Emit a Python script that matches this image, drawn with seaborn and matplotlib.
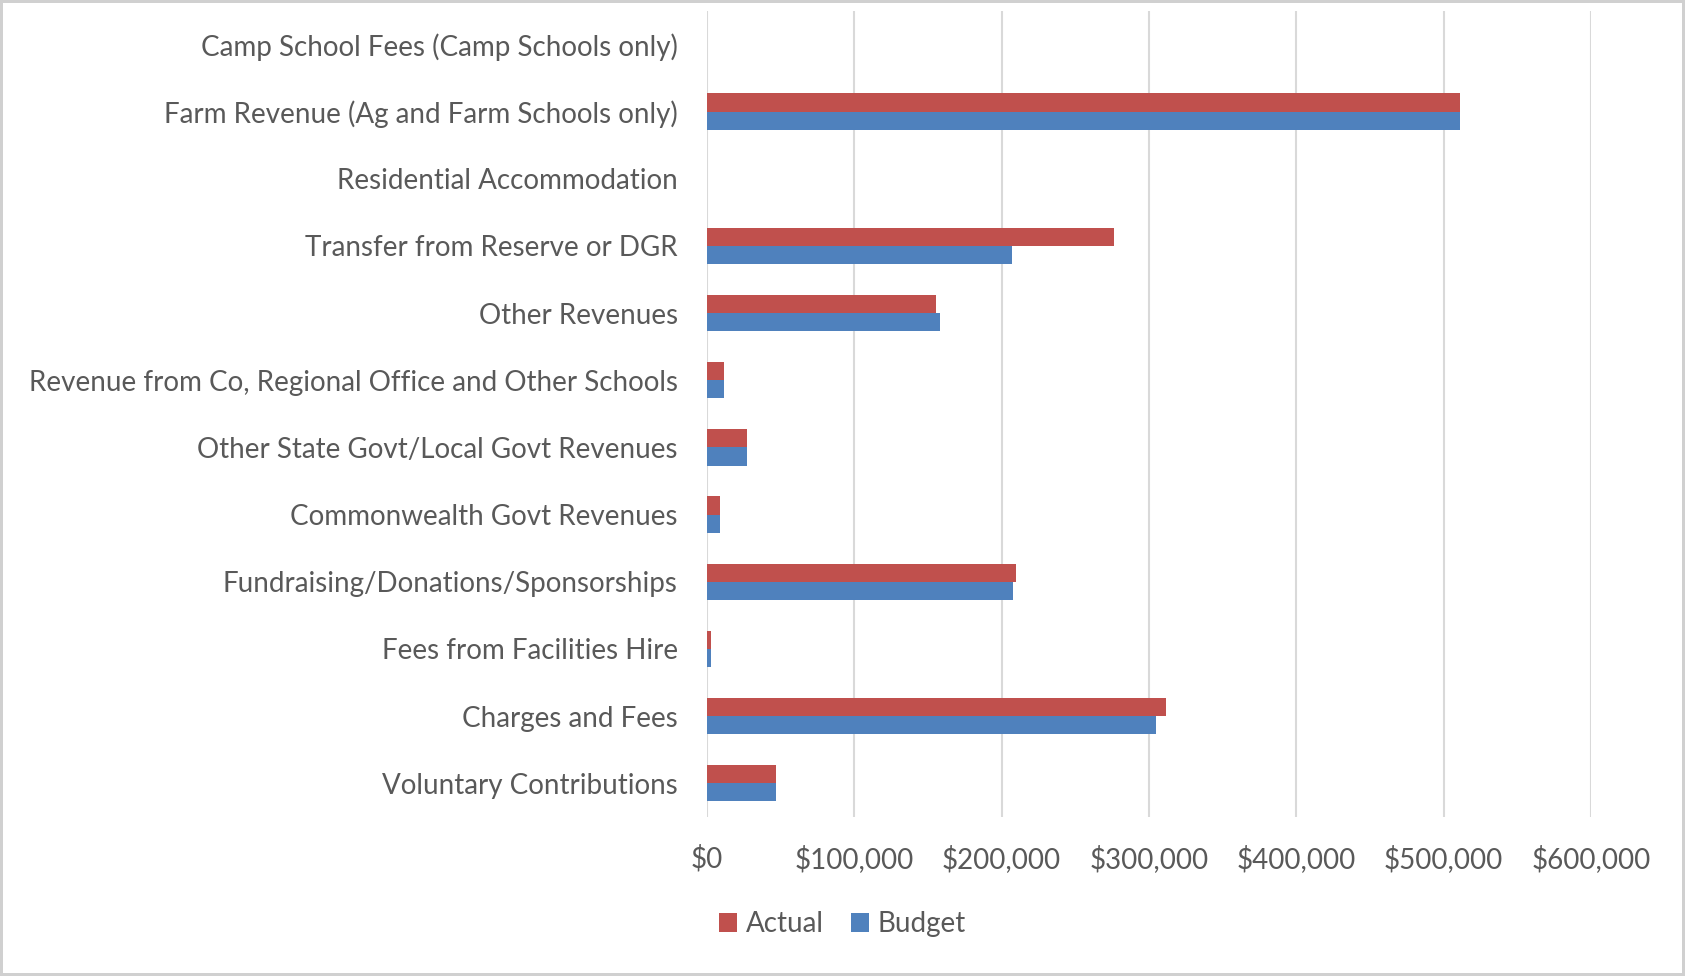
import numpy as np
import pandas as pd
import matplotlib
matplotlib.use('Agg')
import matplotlib.pyplot as plt
import seaborn as sns
from matplotlib.ticker import FuncFormatter

# Revenue categories (top to bottom as shown)
categories = [
    'Camp School Fees (Camp Schools only)',
    'Farm Revenue (Ag and Farm Schools only)',
    'Residential Accommodation',
    'Transfer from Reserve or DGR',
    'Other Revenues',
    'Revenue from Co, Regional Office and Other Schools',
    'Other State Govt/Local Govt Revenues',
    'Commonwealth Govt Revenues',
    'Fundraising/Donations/Sponsorships',
    'Fees from Facilities Hire',
    'Charges and Fees',
    'Voluntary Contributions',
]
actual = [0, 511500, 0, 276500, 155500, 11500, 27000, 8500, 210000, 2500, 311500, 46500]
budget = [0, 511500, 0, 207000, 158000, 11500, 27000, 8500, 207500, 2500, 304500, 46500]
series = ['Actual', 'Budget']
colors = ['#C0504D', '#4F81BD']

df = pd.DataFrame({
    'category': categories * 2,
    'value': actual + budget,
    'series': ['Actual'] * len(categories) + ['Budget'] * len(categories),
})

sns.set_theme(style='white')
plt.rcParams['font.family'] = ['Lato', 'DejaVu Sans']

fig = plt.figure(figsize=(16.85, 9.76), dpi=100)
ax = fig.add_axes([0.4196, 0.163, 0.5245, 0.826])

sns.barplot(data=df, y='category', x='value', hue='series', order=categories,
            hue_order=series, palette=colors, width=0.54, orient='h',
            saturation=1, linewidth=0, ax=ax)

ax.set_xlim(0, 600000)
ax.set_xticks(np.arange(0, 600001, 100000))
ax.xaxis.set_major_formatter(FuncFormatter(lambda v, p: '${:,.0f}'.format(v)))
ax.grid(axis='x', color='#d9d9d9', linewidth=1.5)
ax.set_axisbelow(True)
for s in ax.spines.values():
    s.set_visible(False)
ax.tick_params(axis='x', length=0, pad=20, labelsize=20, labelcolor='#595959')
ax.tick_params(axis='y', length=0, pad=21, labelsize=20, labelcolor='#595959')
ax.set_xlabel('')
ax.set_ylabel('')

ax.legend(loc='center', bbox_to_anchor=(0.5, 0.053), bbox_transform=fig.transFigure,
          ncol=2, frameon=False, fontsize=20, handlelength=0.65, handleheight=0.65,
          handletextpad=0.3, columnspacing=1.0, labelcolor='#595959')

fig.patch.set_edgecolor('#d0d0d0')
fig.patch.set_linewidth(3)

fig.savefig('out.png', dpi=100, edgecolor=fig.get_edgecolor())
